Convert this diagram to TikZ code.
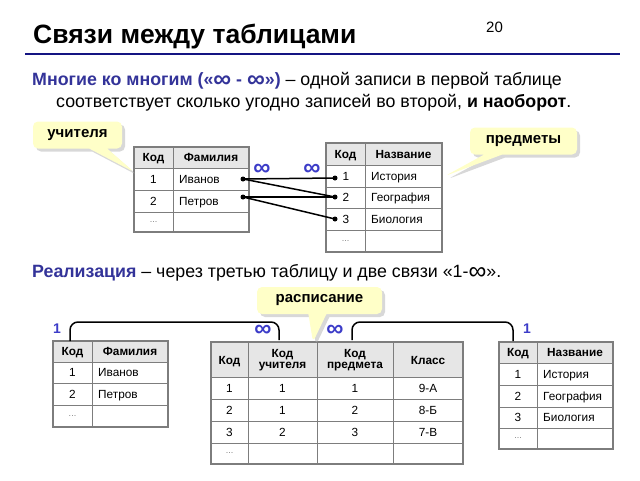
\documentclass[tikz,border=0pt]{standalone}
\usepackage{fontspec}
\setmainfont{Liberation Sans}
\usepackage{tikz}
\usetikzlibrary{positioning, shapes.callouts, shadows}
\definecolor{hblue}{RGB}{51,51,153}
\definecolor{iblue}{RGB}{60,60,200}
\definecolor{navy}{RGB}{20,20,130}
\definecolor{gline}{RGB}{125,125,125}
\definecolor{ghead}{RGB}{230,230,230}
\definecolor{note}{RGB}{255,255,200}
\newcommand{\binf}{\raisebox{-2.5pt}{\fontsize{25}{20}\selectfont ∞}}
\tikzset{
    txt/.style={inner sep=0, anchor=base west, font=\fontsize{17.8}{20}\selectfont},
    grid/.style={draw=gline, line width=1pt},
    frame/.style={draw=gline, line width=1.6pt},
    head/.style={fill=ghead},
    cell/.style={inner sep=0, text height=8.4pt, text depth=0pt, font=\fontsize{11.8}{13}\selectfont},
    hcell/.style={cell, font=\fontsize{11.8}{13}\selectfont\bfseries},
    hcell2/.style={inner sep=0, align=center, font=\fontsize{11.8}{13}\selectfont\bfseries},
    dots/.style={inner sep=0, text=gray, font=\fontsize{9}{10}\selectfont},
    inf/.style={inner sep=0, text=iblue, font=\fontsize{24}{26}\selectfont\bfseries},
    one/.style={inner sep=0, text=iblue, font=\fontsize{14}{16}\selectfont\bfseries},
    dot/.style={circle, fill=black, inner sep=0, minimum size=5pt},
    link/.style={line width=1.5pt},
    brace/.style={line width=1.5pt, rounded corners=8pt},
    note/.style={rectangle callout, fill=note, rounded corners=5pt, inner sep=0,
        minimum height=27pt, callout pointer width=18pt,
        drop shadow={shadow xshift=3pt, shadow yshift=-3pt, fill=gray!60},
        font=\fontsize{15}{17}\selectfont\bfseries}
}
\begin{document}
\begin{tikzpicture}[x=1pt, y=-1pt]
    \useasboundingbox (0,0) rectangle (640,480);

    % header
    \node[inner sep=0, anchor=base west, font=\fontsize{26.5}{28}\selectfont\bfseries] (title) at (33,43) {Связи между таблицами};
    \node[inner sep=0, anchor=base west, font=\fontsize{15}{16}\selectfont] (num) at (486,32) {20};
    \draw[navy, line width=2.2pt] (25,54) -- (620,54);

    \node[txt] (l1) at (32,85) {\textcolor{hblue}{\textbf{Многие ко многим («\binf\ - \binf»)}} – одной записи в первой таблице};
    \node[txt] (l2) at (56,107) {соответствует сколько угодно записей во второй, \textbf{и наоборот}.};

    % teachers, top
    \fill[head] (134,147) rectangle (249,168);
    \draw[grid] (134,168) -- (249,168);
    \draw[grid] (134,190) -- (249,190);
    \draw[grid] (134,212) -- (249,212);
    \draw[grid] (173,147) -- (173,232);
    \draw[frame] (134,147) rectangle (249,232);
    \node[hcell] at (153.5,157.5) {Код};
    \node[hcell] at (211,157.5) {Фамилия};
    \node[cell] at (153.5,179) {1};
    \node[cell] at (153.5,201) {2};
    \node[dots] at (153.5,222) {...};
    \node[cell, anchor=west] at (179,179) {Иванов};
    \node[cell, anchor=west] at (179,201) {Петров};

    % subjects, top
    \fill[head] (326,143) rectangle (442,165);
    \draw[grid] (326,165) -- (442,165);
    \draw[grid] (326,187) -- (442,187);
    \draw[grid] (326,208) -- (442,208);
    \draw[grid] (326,230) -- (442,230);
    \draw[grid] (365,143) -- (365,252);
    \draw[frame] (326,143) rectangle (442,252);
    \node[hcell] at (345.5,154) {Код};
    \node[hcell] at (403.5,154) {Название};
    \node[cell] at (346,176) {1};
    \node[cell] at (346,197.5) {2};
    \node[cell] at (346,219) {3};
    \node[dots] at (345.5,241) {...};
    \node[cell, anchor=west] at (371,176) {История};
    \node[cell, anchor=west] at (371,197.5) {География};
    \node[cell, anchor=west] at (371,219) {Биология};

    % links
    \node[dot] (iv) at (243,179) {};
    \node[dot] (pe) at (243,197) {};
    \node[dot] (s1) at (335,178) {};
    \node[dot] (s2) at (335,197) {};
    \node[dot] (s3) at (335,219) {};
    \draw[link] (iv.center) -- (s1.center);
    \draw[link] (iv.center) -- (s2.center);
    \draw[link] (pe.center) -- (s2.center);
    \draw[link] (pe.center) -- (s3.center);
    \node[inf] (infa) at (262,170) {∞};
    \node[inf] (infb) at (312,170) {∞};

    \node[note, minimum width=89pt, callout absolute pointer={(134,172)}] (cteach) at (77.5,135) {учителя};
    \node[note, minimum width=107pt, callout absolute pointer={(445,176)}] (csubj) at (523.5,141) {предметы};

    \node[txt] (l3) at (32,277) {\textcolor{hblue}{\textbf{Реализация}} – через третью таблицу и две связи «1-\binf».};

    % teachers, bottom
    \fill[head] (53,341) rectangle (168,362);
    \draw[grid] (53,362) -- (168,362);
    \draw[grid] (53,383) -- (168,383);
    \draw[grid] (53,405) -- (168,405);
    \draw[grid] (92,341) -- (92,427);
    \draw[frame] (53,341) rectangle (168,427);
    \node[hcell] at (72.5,351.5) {Код};
    \node[hcell] at (130,351.5) {Фамилия};
    \node[cell] at (72.5,372.5) {1};
    \node[cell] at (72.5,394) {2};
    \node[dots] at (72.5,416) {...};
    \node[cell, anchor=west] at (98,372.5) {Иванов};
    \node[cell, anchor=west] at (98,394) {Петров};

    % schedule
    \fill[head] (211,342) rectangle (463,377);
    \draw[grid] (211,377) -- (463,377);
    \draw[grid] (211,399) -- (463,399);
    \draw[grid] (211,421) -- (463,421);
    \draw[grid] (211,443) -- (463,443);
    \draw[grid] (248,342) -- (248,464);
    \draw[grid] (317,342) -- (317,464);
    \draw[grid] (393,342) -- (393,464);
    \draw[frame] (211,342) rectangle (463,464);
    \node[hcell] at (229.5,360) {Код};
    \node[hcell2] at (282.5,360) {Код\\[-2pt]учителя};
    \node[hcell2] at (355,360) {Код\\[-2pt]предмета};
    \node[hcell] at (428,360) {Класс};
    \node[cell] at (229.5,388) {1};
    \node[cell] at (229.5,410) {2};
    \node[cell] at (229.5,432) {3};
    \node[dots] at (229.5,453.5) {...};
    \node[cell] at (282.5,388) {1};
    \node[cell] at (282.5,410) {1};
    \node[cell] at (282.5,432) {2};
    \node[cell] at (355,388) {1};
    \node[cell] at (355,410) {2};
    \node[cell] at (355,432) {3};
    \node[cell] at (428,388) {9-А};
    \node[cell] at (428,410) {8-Б};
    \node[cell] at (428,432) {7-В};

    % subjects, bottom
    \fill[head] (499,342) rectangle (613,363);
    \draw[grid] (499,363) -- (613,363);
    \draw[grid] (499,385) -- (613,385);
    \draw[grid] (499,407) -- (613,407);
    \draw[grid] (499,428) -- (613,428);
    \draw[grid] (537,342) -- (537,449);
    \draw[frame] (499,342) rectangle (613,449);
    \node[hcell] at (518,352.5) {Код};
    \node[hcell] at (575,352.5) {Название};
    \node[cell] at (518,374) {1};
    \node[cell] at (518,396) {2};
    \node[cell] at (518,417.5) {3};
    \node[dots] at (518,438.5) {...};
    \node[cell, anchor=west] at (543,374) {История};
    \node[cell, anchor=west] at (543,396) {География};
    \node[cell, anchor=west] at (543,417.5) {Биология};

    % two 1-many links
    \coordinate (ta) at (70,341);
    \coordinate (sa) at (279,340);
    \coordinate (sb) at (352,340);
    \coordinate (tb) at (513,341);
    \draw[brace] (ta) -- (70,322) -- (279,322) -- (sa);
    \draw[brace] (sb) -- (352,322) -- (513,322) -- (tb);
    \node[one] (onea) at (57,329) {1};
    \node[one] (oneb) at (527,329) {1};
    \node[inf] (infc) at (263,331) {∞};
    \node[inf] (infd) at (335,331) {∞};

    \node[note, minimum width=125pt, callout absolute pointer={(313,342)}] (csched) at (319.5,300.5) {расписание};
\end{tikzpicture}
\end{document}
